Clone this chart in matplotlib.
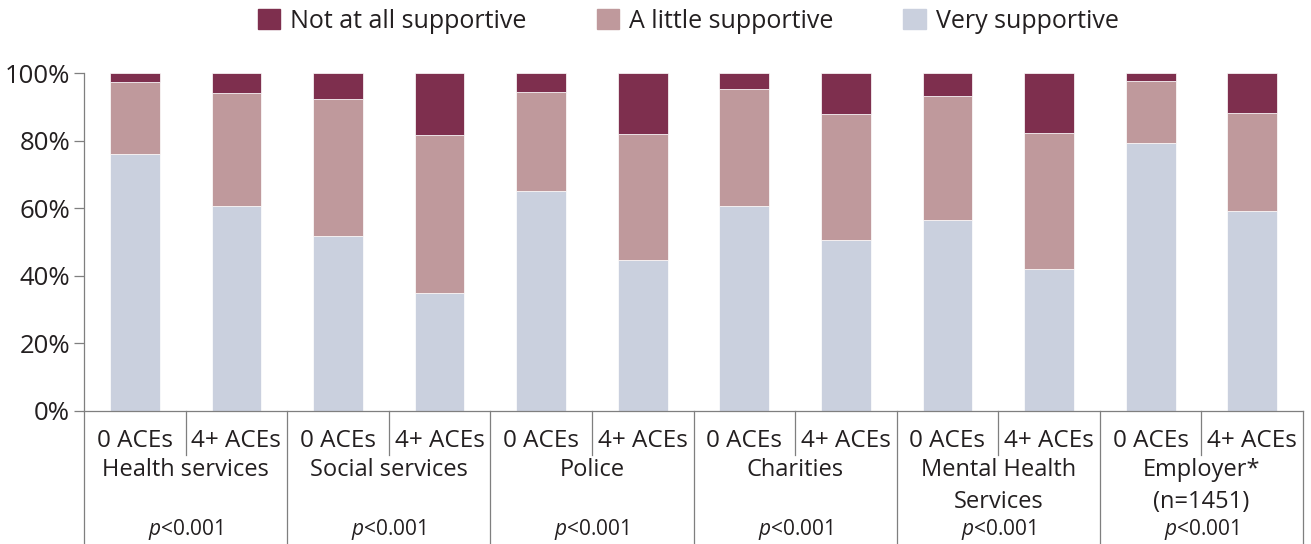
import numpy as np
import matplotlib.pyplot as plt
from matplotlib.patches import Patch

plt.rcParams['font.family'] = ['Open Sans', 'DejaVu Sans']
plt.rcParams['mathtext.fontset'] = 'custom'
plt.rcParams['mathtext.it'] = 'Open Sans:italic'
plt.rcParams['mathtext.rm'] = 'Open Sans'

# Данные
categories = ['Health services', 'Social services', 'Police', 'Charities',
              'Mental Health\nServices', 'Employer*\n(n=1451)']
groups = ['0 ACEs', '4+ ACEs']
very = [76.0, 60.7, 51.8, 34.9, 65.1, 44.7, 60.7, 50.6, 56.5, 42.0, 79.3, 59.2]
little = [21.3, 33.4, 40.5, 46.8, 29.3, 37.3, 34.6, 37.3, 36.7, 40.2, 18.3, 29.0]
not_at_all = [100 - v - l for v, l in zip(very, little)]
p_values = ['$p$<0.001'] * 6

c_not = '#7E2F4E'
c_little = '#BF999C'
c_very = '#CAD0DE'
grey = '#7f7f7f'
txt = '#231F20'

fig = plt.figure(figsize=(13.11, 5.44), dpi=100)
ax = fig.add_axes([0.0641, 0.2445, 0.9298, 0.6213])

x = np.arange(len(very))
w = 0.49
ax.bar(x, very, w, color=c_very, edgecolor='white', linewidth=0.5)
ax.bar(x, little, w, bottom=very, color=c_little, edgecolor='white', linewidth=0.5)
ax.bar(x, not_at_all, w, bottom=np.array(very) + np.array(little),
       color=c_not, edgecolor='white', linewidth=0.5)

ax.set_xlim(-0.5, len(very) - 0.5)
ax.set_ylim(0, 100)
ax.set_yticks(range(0, 101, 20))
ax.set_yticklabels([f'{v}%' for v in range(0, 101, 20)], fontsize=18.5, color=txt)
ax.set_xticks([])
for s in ['top', 'right']:
    ax.spines[s].set_visible(False)
for s in ['left', 'bottom']:
    ax.spines[s].set_color(grey)
    ax.spines[s].set_linewidth(0.9)
ax.tick_params(axis='y', color=grey, width=0.9, length=7, pad=3)

# Таблица подписей под осью
tr = ax.get_xaxis_transform()
def fy(ypix):
    return (411 - ypix) / 338
bottom = fy(544)

for i in range(len(categories) + 1):
    xx = 2 * i - 0.5
    ax.plot([xx, xx], [0, bottom], color=grey, lw=0.9, transform=tr, clip_on=False)
for i in range(len(categories)):
    xx = 2 * i + 0.5
    ax.plot([xx, xx], [0, fy(455)], color=grey, lw=0.9, transform=tr, clip_on=False)

for i, cat in enumerate(categories):
    for j, g in enumerate(groups):
        ax.text(2 * i + j, fy(441), g, transform=tr, ha='center', va='center',
                fontsize=17.5, color=txt)
    lines = cat.split('\n')
    for k, line in enumerate(lines):
        ax.text(2 * i + 0.5, fy(470 + 32 * k), line, transform=tr, ha='center',
                va='center', fontsize=17, color=txt)
    ax.text(2 * i + 0.5, fy(530), p_values[i], transform=tr, ha='center',
            va='center', fontsize=15, color=txt)

handles = [Patch(color=c_not), Patch(color=c_little), Patch(color=c_very)]
labels = ['Not at all supportive', 'A little supportive', 'Very supportive']
leg = fig.legend(handles, labels, loc='center', bbox_to_anchor=(0.525, 0.961),
                 ncol=3, frameon=False, fontsize=18, handlelength=0.9,
                 handleheight=0.9, handletextpad=0.4, columnspacing=2.8)
for t in leg.get_texts():
    t.set_color(txt)

fig.savefig('out.png', dpi=100)
